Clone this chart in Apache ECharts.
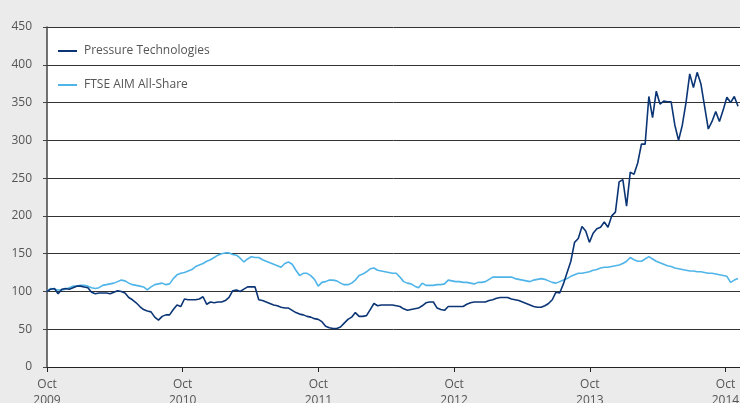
<!DOCTYPE html>
<html><head><meta charset="utf-8">
<script src="https://cdn.jsdelivr.net/npm/echarts@6/dist/echarts.min.js"></script>
<style>html,body{margin:0;padding:0;background:#ebebeb;overflow:hidden;}#c{width:740px;height:403px;}</style>
</head><body><div id="c"></div>
<script>
// Sample spacing: one value every 10 days starting 1 Oct 2009
const startYear = 2009;
const stepDays = 10;
const seriesNames = ['Pressure Technologies', 'FTSE AIM All-Share'];
const pressureTech = [
100,103,104,97,103,104,103,105,107,107,106,105,99,97,98,98,98,97,99,101,
100,98,92,89,85,80,76,74,73,66,62,67,69,69,76,82,80,90,89,89,
89,90,93,83,86,85,86,86,88,92,101,102,100,103,106,106,106,89,88,86,
84,82,81,79,78,78,75,72,70,69,67,66,64,63,60,54,52,51,51,53,
58,63,66,72,67,67,68,76,84,81,82,82,82,82,81,80,77,75,76,77,
78,81,85,86,86,78,76,75,80,80,80,80,80,83,85,86,86,86,86,88,
89,91,92,92,92,90,89,88,86,84,82,80,79,79,81,84,89,99,98,110,
125,140,165,170,186,180,165,177,183,185,192,185,200,205,245,248,213,258,255,270,
295,295,358,330,365,348,352,351,351,320,300,320,350,388,370,390,375,345,315,325,
338,325,340,357,350,358,345];
const ftseAim = [
100,104,103,102,102,103,105,107,107,108,108,107,105,104,105,108,109,110,111,113,
115,114,111,109,108,107,106,102,106,109,110,111,109,110,117,122,124,125,127,129,
133,135,137,140,142,145,148,150,151,151,149,148,144,139,143,146,145,145,142,140,
138,136,134,132,137,139,136,128,121,124,124,121,116,107,112,113,115,115,114,111,
109,109,111,115,121,123,126,130,131,128,127,126,125,124,124,119,113,111,110,107,
105,111,108,108,108,109,109,110,115,114,113,113,112,112,111,110,112,112,113,116,
119,119,119,119,119,119,117,116,115,114,113,115,116,117,116,114,112,111,113,115,
117,120,122,124,124,125,126,128,129,131,132,132,133,134,135,137,140,145,142,140,
140,143,146,143,140,138,136,134,133,131,130,129,128,127,127,126,126,125,124,124,
123,122,121,120,112,115,117];
const yTicks = [0,50,100,150,200,250,300,350,400,450];
const xTickYears = [2009,2010,2011,2012,2013,2014];

function toPairs(vals){ return vals.map((v,i)=>[i*stepDays/365.25, v]); }

const chart = echarts.init(document.getElementById('c'));
chart.setOption({
  backgroundColor: '#ebebeb',
  animation: false,
  textStyle: {fontFamily: 'Open Sans'},
  grid: {left: 47, right: 0, top: 27, bottom: 36, containLabel: false, outerBoundsMode: 'none',
         show: true, backgroundColor: '#ffffff', borderWidth: 0},
  legend: {
    orient: 'vertical', left: 58, top: 44, padding: 0, itemGap: 20, itemWidth: 19, itemHeight: 2,
    icon: 'rect', data: seriesNames,
    textStyle: {color: '#555', fontSize: 12, fontFamily: 'Open Sans', lineHeight: 14, padding: [0,0,0,2]}
  },
  xAxis: {
    type: 'value', min: 0, max: 5.107, interval: 1,
    axisLine: {show: true, lineStyle: {color: '#222', width: 1}},
    axisTick: {show: true, length: 5, lineStyle: {color: '#222'}},
    splitLine: {show: false},
    axisLabel: {
      color: '#555', fontSize: 12, margin: 10, lineHeight: 16, showMaxLabel: false,
      formatter: v => { const i = Math.round(v); return (Math.abs(v-i) < 1e-6 && i < xTickYears.length) ? 'Oct\n' + xTickYears[i] : ''; }
    }
  },
  yAxis: {
    type: 'value', min: yTicks[0], max: yTicks[yTicks.length-1], interval: 50,
    axisLine: {show: true, lineStyle: {color: '#444', width: 1.5}},
    axisTick: {show: true, length: 4, lineStyle: {color: '#444'}},
    splitLine: {show: true, lineStyle: {color: '#333', width: 1}},
    axisLabel: {color: '#555', fontSize: 12, margin: 15, padding: [0,0,10,0]}
  },
  series: [
    {name: seriesNames[0], type: 'line', data: toPairs(pressureTech), showSymbol: false, z: 3,
     lineStyle: {color: '#0b3575', width: 1.6}, itemStyle: {color: '#0b3575'}},
    {name: seriesNames[1], type: 'line', data: toPairs(ftseAim), showSymbol: false, z: 2,
     lineStyle: {color: '#4fb4e8', width: 1.6}, itemStyle: {color: '#4fb4e8'}}
  ]
});
</script></body></html>
